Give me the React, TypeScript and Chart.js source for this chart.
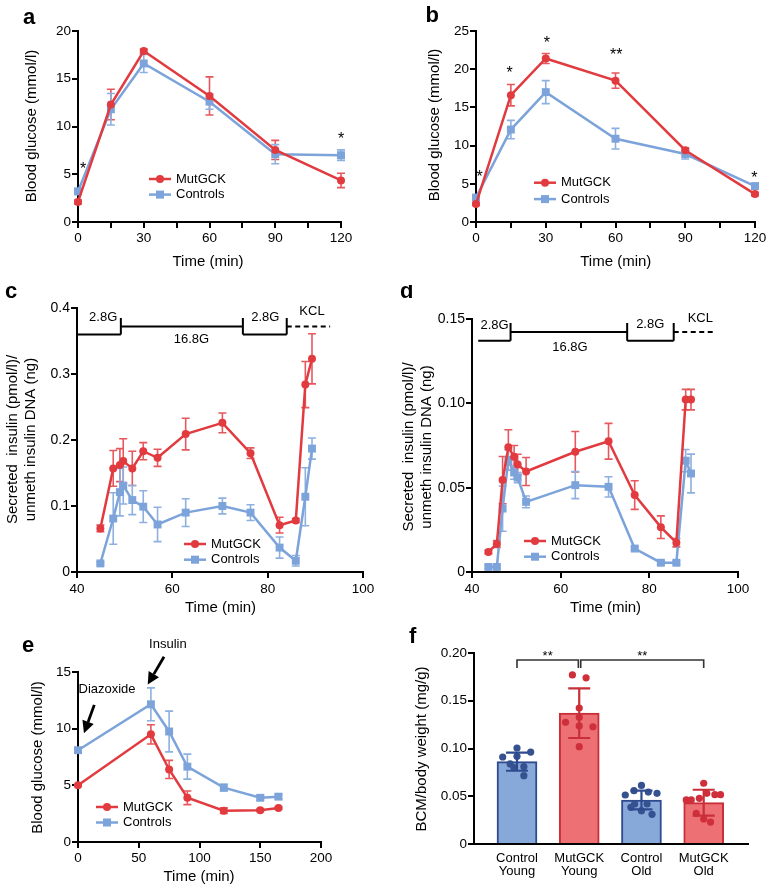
import React, { useEffect, useRef } from 'react';
import { Chart, registerables } from 'chart.js';

Chart.register(...registerables);

const FONT = '"Liberation Sans", Arial, Helvetica, sans-serif';
const RED = '#e13b40';
const BLUE = '#7ca3da';
const RED_ERR = '#e6585d';
const BLUE_ERR = '#8db0e0';
const RED_BAR = '#ed7074';
const RED_BAR_EDGE = '#c92f38';
const BLUE_BAR = '#87a9da';
const BLUE_BAR_EDGE = '#2f4b90';
const RED_DOT = '#cf2f3a';
const BLUE_DOT = '#35518f';

const SERIES = ['MutGCK', 'Controls'];

// ---------- panel a ----------
const A_TIME = [0, 15, 30, 60, 90, 120];
const A_MUT = [2.1, 12.3, 17.9, 13.2, 7.55, 4.35];
const A_MUT_SE = [0.2, 1.6, 0.2, 2.0, 1.0, 0.75];
const A_CTRL = [3.2, 11.8, 16.6, 12.6, 7.1, 7.0];
const A_CTRL_SE = [0.3, 1.65, 0.95, 0.8, 1.0, 0.55];
const A_STAR_X = [2.3, 120];
const A_STAR_Y = [6.0, 9.1];
const A_STAR_T = ['*', '*'];

// ---------- panel b ----------
const B_TIME = [0, 15, 30, 60, 90, 120];
const B_MUT = [2.35, 16.6, 21.4, 18.5, 9.4, 3.65];
const B_MUT_SE = [0.2, 1.4, 0.65, 1.0, 0.3, 0.2];
const B_CTRL = [3.2, 12.1, 17.0, 10.9, 8.9, 4.7];
const B_CTRL_SE = [0.3, 1.2, 1.5, 1.35, 0.65, 0.35];
const B_STAR_X = [1.6, 14.5, 30.5, 60.3, 119.7];
const B_STAR_Y = [6.45, 20.1, 23.95, 22.4, 6.36];
const B_STAR_T = ['*', '*', '*', '**', '*'];

// ---------- panel c ----------
const C_TIME = [44.9, 47.6, 49.0, 49.7, 51.6, 53.9, 56.9, 62.8, 70.5, 76.4, 82.5, 85.9, 87.9, 89.3];
const C_MUT = [0.066, 0.157, 0.162, 0.168, 0.157, 0.183, 0.173, 0.209, 0.226, 0.18, 0.071, 0.078, 0.284, 0.323];
const C_MUT_SE = [0.005, 0.027, 0.025, 0.034, 0.026, 0.013, 0.013, 0.024, 0.015, 0.008, 0.012, 0.003, 0.035, 0.038];
const C_CTRL = [0.013, 0.081, 0.121, 0.131, 0.109, 0.099, 0.072, 0.09, 0.1, 0.09, 0.037, 0.017, 0.114, 0.187];
const C_CTRL_SE = [0.002, 0.039, 0.036, 0.028, 0.022, 0.024, 0.026, 0.021, 0.012, 0.012, 0.016, 0.008, 0.044, 0.016];
const C_STEP_X = [40, 49.2, 74.8, 84.0, 93.1];
const C_LEVELS = [0.36, 0.372, 0.385];
const C_PHASES = ['2.8G', '16.8G', '2.8G', 'KCL'];
const C_PHASE_X = [45.5, 64, 79.5, 89.3];
const C_PHASE_Y = [0.386, 0.3525, 0.386, 0.3955];

// ---------- panel d ----------
const D_TIME = [43.7, 45.6, 46.9, 48.2, 49.5, 50.3, 52.2, 63.3, 70.8, 76.7, 82.6, 86.1, 88.2, 89.4];
const D_MUT = [0.0119, 0.0166, 0.0545, 0.0739, 0.0684, 0.0638, 0.0596, 0.0713, 0.0775, 0.0456, 0.0266, 0.0174, 0.1022, 0.1022];
const D_MUT_SE = [0.001, 0.002, 0.014, 0.0104, 0.0066, 0.006, 0.0083, 0.012, 0.0106, 0.0085, 0.0067, 0.0025, 0.0061, 0.0061];
const D_CTRL = [0.003, 0.003, 0.0376, 0.0664, 0.059, 0.056, 0.0416, 0.0515, 0.0505, 0.0139, 0.0055, 0.0055, 0.066, 0.0584];
const D_CTRL_SE = [0.001, 0.001, 0.0134, 0.006, 0.004, 0.003, 0.0035, 0.008, 0.006, 0.001, 0.001, 0.001, 0.0066, 0.0115];
const D_STEP_X = [41.4, 48.7, 75.0, 85.5, 94.5];
const D_LEVELS = [0.1371, 0.1423, 0.1476];
const D_PHASES = ['2.8G', '16.8G', '2.8G', 'KCL'];
const D_PHASE_X = [45.1, 62.1, 80.2, 91.5];
const D_PHASE_Y = [0.1464, 0.1332, 0.1468, 0.1504];

// ---------- panel e ----------
const E_TIME = [0, 60, 75, 90, 120, 150, 165];
const E_MUT = [5.0, 9.5, 6.4, 3.9, 2.76, 2.8, 3.0];
const E_MUT_SE = [0.1, 0.85, 0.8, 0.6, 0.25, 0.1, 0.1];
const E_CTRL = [8.1, 12.15, 9.75, 6.65, 4.8, 3.9, 4.0];
const E_CTRL_SE = [0.15, 1.45, 1.8, 1.1, 0.3, 0.2, 0.2];
const E_NOTES = ['Diazoxide', 'Insulin'];
const E_NOTE_X = [23.9, 74];
const E_NOTE_Y = [13.5, 17.4];
const E_ARROW_FROM = [[13.4, 12.1], [70.8, 16.35]];
const E_ARROW_TO = [[4.9, 9.6], [57.4, 13.9]];

// ---------- panel f ----------
const F_CATS = [['Control', 'Young'], ['MutGCK', 'Young'], ['Control', 'Old'], ['MutGCK', 'Old']];
const F_MEAN = [0.0862, 0.137, 0.0461, 0.0433];
const F_SD = [0.0095, 0.026, 0.0098, 0.0135];
const F_DOTS_CY = [0.0911, 0.1005, 0.0963, 0.0918, 0.0838, 0.081, 0.08, 0.0715];
const F_JIT_CY = [-0.23, 0, 0.22, 0, -0.11, 0.11, -0.05, 0.11];
const F_DOTS_MY = [0.177, 0.174, 0.1424, 0.1327, 0.1274, 0.1236, 0.1228, 0.1019];
const F_JIT_MY = [-0.11, 0.11, 0, 0, -0.22, 0, 0.22, 0];
const F_DOTS_CO = [0.0513, 0.0558, 0.0613, 0.0544, 0.0531, 0.0419, 0.0419, 0.0384, 0.0349, 0.0311];
const F_JIT_CO = [-0.26, -0.12, 0, 0.11, 0.25, -0.11, 0.09, -0.17, 0, 0.17];
const F_DOTS_MO = [0.0636, 0.0461, 0.0461, 0.0478, 0.0531, 0.0517, 0.0517, 0.0321, 0.0262, 0.023];
const F_JIT_MO = [0, -0.28, -0.2, -0.07, 0.05, 0.18, 0.27, -0.12, 0, 0.11];
const F_SIG_FROM = [1, 2.024];
const F_SIG_TO = [1.986, 4];
const F_SIG_TEXT = ['**', '**'];
const F_SIG_TOP = 0.1927;
const F_SIG_LEG = 0.1843;

// ---------- helpers ----------
function txt(ctx: any, s: string, x: number, y: number, size: number, o: any = {}) {
  ctx.save();
  ctx.font = `${o.bold ? 'bold ' : ''}${size}px ${FONT}`;
  ctx.fillStyle = '#000';
  ctx.textAlign = o.align || 'center';
  ctx.textBaseline = o.baseline || 'middle';
  ctx.translate(x, y);
  if (o.rot) ctx.rotate(o.rot);
  ctx.fillText(s, 0, 0);
  ctx.restore();
}

function star(ctx: any, s: string, x: number, yc: number, size: number) {
  txt(ctx, s, x, yc + 0.57 * size, size, { baseline: 'alphabetic' });
}

function marker(ctx: any, shape: string, x: number, y: number, color: string) {
  ctx.save();
  ctx.fillStyle = color;
  if (shape === 'rect') {
    ctx.fillRect(x - 4, y - 4, 8, 8);
  } else {
    ctx.beginPath();
    ctx.arc(x, y, 4, 0, Math.PI * 2);
    ctx.fill();
  }
  ctx.restore();
}

function drawLegend(ctx: any, x: number, y: number, gap: number) {
  const colors = [RED, BLUE];
  const shapes = ['circle', 'rect'];
  SERIES.forEach((name, i) => {
    const yy = y + i * gap;
    ctx.save();
    ctx.strokeStyle = colors[i];
    ctx.lineWidth = 2.5;
    ctx.beginPath();
    ctx.moveTo(x, yy);
    ctx.lineTo(x + 22, yy);
    ctx.stroke();
    ctx.restore();
    marker(ctx, shapes[i], x + 11, yy, colors[i]);
    txt(ctx, name, x + 27, yy, 13, { align: 'left' });
  });
}

function arrow(ctx: any, x1: number, y1: number, x2: number, y2: number) {
  const ang = Math.atan2(y2 - y1, x2 - x1);
  const head = 12;
  const hw = 6;
  const bx = x2 - head * Math.cos(ang);
  const by = y2 - head * Math.sin(ang);
  ctx.save();
  ctx.strokeStyle = '#000';
  ctx.fillStyle = '#000';
  ctx.lineWidth = 2.8;
  ctx.beginPath();
  ctx.moveTo(x1, y1);
  ctx.lineTo(bx, by);
  ctx.stroke();
  ctx.beginPath();
  ctx.moveTo(x2, y2);
  ctx.lineTo(bx + hw * Math.sin(ang), by - hw * Math.cos(ang));
  ctx.lineTo(bx - hw * Math.sin(ang), by + hw * Math.cos(ang));
  ctx.closePath();
  ctx.fill();
  ctx.restore();
}

function drawErrors(chart: any, onTop: boolean) {
  const ctx = chart.ctx;
  const ys = chart.scales.y;
  chart.data.datasets.forEach((ds: any, i: number) => {
    if (!ds.errorBars || !!ds.errorOnTop !== onTop) return;
    const meta = chart.getDatasetMeta(i);
    meta.data.forEach((el: any, j: number) => {
      const raw = ds.data[j];
      const v = typeof raw === 'number' ? raw : raw.y;
      const e = ds.errorBars[j];
      const top = ys.getPixelForValue(v + e);
      const bot = ys.getPixelForValue(v - e);
      const x = el.x;
      const cap = ds.capW || 8;
      ctx.save();
      ctx.strokeStyle = Array.isArray(ds.errorColor) ? ds.errorColor[j] : ds.errorColor;
      ctx.lineWidth = ds.errorWidth || 1.6;
      ctx.beginPath();
      ctx.moveTo(x, top);
      ctx.lineTo(x, bot);
      ctx.moveTo(x - cap / 2, top);
      ctx.lineTo(x + cap / 2, top);
      ctx.moveTo(x - cap / 2, bot);
      ctx.lineTo(x + cap / 2, bot);
      ctx.stroke();
      ctx.restore();
    });
  });
}

function drawTimeline(chart: any, stepX: number[], lv: number[], names: string[], nx: number[], ny: number[]) {
  const ctx = chart.ctx;
  const X = (v: number) => chart.scales.x.getPixelForValue(v);
  const Y = (v: number) => chart.scales.y.getPixelForValue(v);
  ctx.save();
  ctx.strokeStyle = '#000';
  ctx.lineWidth = 2;
  ctx.beginPath();
  ctx.moveTo(X(stepX[0]), Y(lv[0]));
  ctx.lineTo(X(stepX[1]), Y(lv[0]));
  ctx.moveTo(X(stepX[1]), Y(lv[1]));
  ctx.lineTo(X(stepX[2]), Y(lv[1]));
  ctx.moveTo(X(stepX[2]), Y(lv[0]));
  ctx.lineTo(X(stepX[3]), Y(lv[0]));
  [1, 2, 3].forEach((k) => {
    ctx.moveTo(X(stepX[k]), Y(lv[0]));
    ctx.lineTo(X(stepX[k]), Y(lv[2]));
  });
  ctx.stroke();
  ctx.setLineDash([5, 3.5]);
  ctx.beginPath();
  ctx.moveTo(X(stepX[3]), Y(lv[1]));
  ctx.lineTo(X(stepX[4]), Y(lv[1]));
  ctx.stroke();
  ctx.restore();
  names.forEach((n, i) => txt(ctx, n, X(nx[i]), Y(ny[i]), 13));
}

function lineDs(label: string, xs: number[], ys: number[], se: number[], color: string, errColor: string, shape: string) {
  return {
    label,
    data: xs.map((x, i) => ({ x, y: ys[i] })),
    borderColor: color,
    backgroundColor: color,
    borderWidth: 2.5,
    pointStyle: shape,
    pointRadius: shape === 'rect' ? 5.6 : 4,
    pointBorderWidth: 0,
    pointBackgroundColor: color,
    pointBorderColor: color,
    tension: 0,
    clip: false,
    errorBars: se,
    errorColor: errColor,
    capW: 8,
  };
}

const AXIS_BORDER = { display: true, color: '#000', width: 2 };
const AXIS_GRID = { display: true, drawOnChartArea: false, drawTicks: true, tickLength: 6, color: '#000', lineWidth: 2 };

function xLinear(min: number, max: number, step: number, cb: any, pad: number) {
  return {
    type: 'linear',
    min,
    max,
    offset: false,
    ticks: { stepSize: step, callback: cb, autoSkip: false, maxRotation: 0, color: '#000', font: { family: FONT, size: 13.5 }, padding: pad },
    border: AXIS_BORDER,
    grid: AXIS_GRID,
  };
}

function yLinear(min: number, max: number, step: number, cb: any, size = 13.5) {
  return {
    type: 'linear',
    min,
    max,
    ticks: { stepSize: step, callback: cb, autoSkip: false, color: '#000', font: { family: FONT, size }, padding: 1 },
    border: AXIS_BORDER,
    grid: AXIS_GRID,
  };
}

const intLabel = (v: any) => String(v);
const fix = (d: number) => (v: any) => (Number(v) === 0 ? '0' : Number(v).toFixed(d));

// ---------- panel specs ----------
const PANELS: any[] = [
  {
    letter: 'a', letterX: 23, letterY: 24,
    box: { x: 0, y: 0, w: 385, h: 285 },
    area: { L: 78, T: 31, R: 341, B: 222 },
    yTitle: ['Blood glucose (mmol/l)'], yTitleX: [32], yTitleY: 126, yTitleSize: 15,
    xTitle: 'Time (min)', xTitleX: 208, xTitleY: 262,
    legend: { x: 149, y: 179, gap: 15.6 },
    config: () => ({
      type: 'line',
      data: { datasets: [
        lineDs(SERIES[0], A_TIME, A_MUT, A_MUT_SE, RED, RED_ERR, 'circle'),
        lineDs(SERIES[1], A_TIME, A_CTRL, A_CTRL_SE, BLUE, BLUE_ERR, 'rect'),
      ] },
      options: { scales: {
        x: xLinear(0, 120, 15, (v: any) => (v % 30 === 0 ? String(v) : ''), 2),
        y: yLinear(0, 20, 5, intLabel),
      } },
    }),
    extras: (chart: any) => {
      A_STAR_X.forEach((x, i) => star(chart.ctx, A_STAR_T[i], chart.scales.x.getPixelForValue(x), chart.scales.y.getPixelForValue(A_STAR_Y[i]), 16));
    },
  },
  {
    letter: 'b', letterX: 425.5, letterY: 22,
    box: { x: 385, y: 0, w: 384, h: 285 },
    area: { L: 476, T: 31, R: 755, B: 222 },
    yTitle: ['Blood glucose (mmol/l)'], yTitleX: [435], yTitleY: 125, yTitleSize: 15,
    xTitle: 'Time (min)', xTitleX: 615.8, xTitleY: 261.7,
    legend: { x: 534, y: 182.7, gap: 16.4 },
    config: () => ({
      type: 'line',
      data: { datasets: [
        lineDs(SERIES[0], B_TIME, B_MUT, B_MUT_SE, RED, RED_ERR, 'circle'),
        lineDs(SERIES[1], B_TIME, B_CTRL, B_CTRL_SE, BLUE, BLUE_ERR, 'rect'),
      ] },
      options: { scales: {
        x: xLinear(0, 120, 15, (v: any) => (v % 30 === 0 ? String(v) : ''), 2),
        y: yLinear(0, 25, 5, intLabel),
      } },
    }),
    extras: (chart: any) => {
      B_STAR_X.forEach((x, i) => star(chart.ctx, B_STAR_T[i], chart.scales.x.getPixelForValue(x), chart.scales.y.getPixelForValue(B_STAR_Y[i]), 16));
    },
  },
  {
    letter: 'c', letterX: 5, letterY: 298,
    box: { x: 0, y: 285, w: 385, h: 335 },
    area: { L: 77, T: 308, R: 363, B: 572 },
    yTitle: ['Secreted  insulin (pmol/l)/', 'unmeth insulin DNA (ng)'], yTitleX: [12.5, 30.5], yTitleY: 439.5, yTitleSize: 15,
    xTitle: 'Time (min)', xTitleX: 220.5, xTitleY: 607.7,
    legend: { x: 184, y: 544, gap: 15.7 },
    config: () => ({
      type: 'line',
      data: { datasets: [
        lineDs(SERIES[0], C_TIME, C_MUT, C_MUT_SE, RED, RED_ERR, 'circle'),
        lineDs(SERIES[1], C_TIME, C_CTRL, C_CTRL_SE, BLUE, BLUE_ERR, 'rect'),
      ] },
      options: { scales: {
        x: xLinear(40, 100, 20, intLabel, 3.5),
        y: yLinear(0, 0.4, 0.1, fix(1), 14),
      } },
    }),
    extras: (chart: any) => drawTimeline(chart, C_STEP_X, C_LEVELS, C_PHASES, C_PHASE_X, C_PHASE_Y),
  },
  {
    letter: 'd', letterX: 400, letterY: 298,
    box: { x: 385, y: 285, w: 384, h: 335 },
    area: { L: 472, T: 319, R: 738, B: 572 },
    yTitle: ['Secreted  insulin (pmol/l)/', 'unmeth insulin DNA (ng)'], yTitleX: [409, 427], yTitleY: 447, yTitleSize: 15,
    xTitle: 'Time (min)', xTitleX: 605.5, xTitleY: 607.7,
    legend: { x: 524, y: 541, gap: 15.7 },
    config: () => ({
      type: 'line',
      data: { datasets: [
        lineDs(SERIES[0], D_TIME, D_MUT, D_MUT_SE, RED, RED_ERR, 'circle'),
        lineDs(SERIES[1], D_TIME, D_CTRL, D_CTRL_SE, BLUE, BLUE_ERR, 'rect'),
      ] },
      options: { scales: {
        x: xLinear(40, 100, 20, intLabel, 3.5),
        y: yLinear(0, 0.15, 0.05, fix(2), 14),
      } },
    }),
    extras: (chart: any) => drawTimeline(chart, D_STEP_X, D_LEVELS, D_PHASES, D_PHASE_X, D_PHASE_Y),
  },
  {
    letter: 'e', letterX: 22, letterY: 652,
    box: { x: 0, y: 620, w: 385, h: 269 },
    area: { L: 78, T: 672, R: 321, B: 842 },
    yTitle: ['Blood glucose (mmol/l)'], yTitleX: [38.3], yTitleY: 757.5, yTitleSize: 15,
    xTitle: 'Time (min)', xTitleX: 199, xTitleY: 876.7,
    legend: { x: 96, y: 807, gap: 15.5 },
    config: () => ({
      type: 'line',
      data: { datasets: [
        lineDs(SERIES[0], E_TIME, E_MUT, E_MUT_SE, RED, RED_ERR, 'circle'),
        lineDs(SERIES[1], E_TIME, E_CTRL, E_CTRL_SE, BLUE, BLUE_ERR, 'rect'),
      ] },
      options: { scales: {
        x: xLinear(0, 200, 50, intLabel, 2),
        y: yLinear(0, 15, 5, intLabel),
      } },
    }),
    extras: (chart: any) => {
      const X = (v: number) => chart.scales.x.getPixelForValue(v);
      const Y = (v: number) => chart.scales.y.getPixelForValue(v);
      E_NOTES.forEach((n, i) => {
        txt(chart.ctx, n, X(E_NOTE_X[i]), Y(E_NOTE_Y[i]), 13);
        arrow(chart.ctx, X(E_ARROW_FROM[i][0]), Y(E_ARROW_FROM[i][1]), X(E_ARROW_TO[i][0]), Y(E_ARROW_TO[i][1]));
      });
    },
  },
  {
    letter: 'f', letterX: 409, letterY: 643,
    box: { x: 385, y: 620, w: 384, h: 269 },
    area: { L: 474, T: 653, R: 748, B: 844 },
    xH: 44,
    yTitle: ['BCM/body weight (mg/g)'], yTitleX: [421.7], yTitleY: 749, yTitleSize: 15,
    config: () => {
      const groups = [
        { v: F_DOTS_CY, j: F_JIT_CY, c: BLUE_DOT },
        { v: F_DOTS_MY, j: F_JIT_MY, c: RED_DOT },
        { v: F_DOTS_CO, j: F_JIT_CO, c: BLUE_DOT },
        { v: F_DOTS_MO, j: F_JIT_MO, c: RED_DOT },
      ];
      return {
        type: 'bar',
        data: { datasets: [
          {
            type: 'bar',
            data: F_MEAN.map((v, i) => ({ x: i + 1, y: v })),
            backgroundColor: [BLUE_BAR, RED_BAR, BLUE_BAR, RED_BAR],
            borderColor: [BLUE_BAR_EDGE, RED_BAR_EDGE, BLUE_BAR_EDGE, RED_BAR_EDGE],
            borderWidth: 2,
            barThickness: 40,
            order: 2,
            errorBars: F_SD,
            errorColor: [BLUE_BAR_EDGE, RED_BAR_EDGE, BLUE_BAR_EDGE, RED_BAR_EDGE],
            errorWidth: 2.2,
            capW: 22,
            errorOnTop: true,
          },
          ...groups.map((g, k) => ({
            type: 'scatter',
            data: g.v.map((v, i) => ({ x: k + 1 + g.j[i], y: v })),
            pointRadius: 3.6,
            pointBorderWidth: 0,
            backgroundColor: g.c,
            borderColor: g.c,
            clip: false,
            order: 1,
          })),
        ] },
        options: { scales: {
          x: {
            type: 'linear', min: 0.309, max: 4.712, offset: false,
            afterBuildTicks: (s: any) => { s.ticks = [1, 2, 3, 4].map((v) => ({ value: v })); },
            ticks: { callback: (_v: any, i: number) => F_CATS[i], autoSkip: false, maxRotation: 0, color: '#000', font: { family: FONT, size: 13, lineHeight: 1.0 }, padding: 0 },
            border: AXIS_BORDER,
            grid: { display: false },
          },
          y: yLinear(0, 0.2, 0.05, fix(2)),
        } },
      };
    },
    extras: (chart: any) => {
      const ctx = chart.ctx;
      const X = (v: number) => chart.scales.x.getPixelForValue(v);
      const Y = (v: number) => chart.scales.y.getPixelForValue(v);
      ctx.save();
      ctx.strokeStyle = '#333';
      ctx.lineWidth = 1.6;
      F_SIG_FROM.forEach((x0, i) => {
        ctx.beginPath();
        ctx.moveTo(X(x0), Y(F_SIG_LEG));
        ctx.lineTo(X(x0), Y(F_SIG_TOP));
        ctx.lineTo(X(F_SIG_TO[i]), Y(F_SIG_TOP));
        ctx.lineTo(X(F_SIG_TO[i]), Y(F_SIG_LEG));
        ctx.stroke();
      });
      ctx.restore();
      F_SIG_FROM.forEach((x0, i) => star(ctx, F_SIG_TEXT[i], (X(x0) + X(F_SIG_TO[i])) / 2, Y(F_SIG_TOP) - 7, 13));
    },
  },
];

function buildChart(canvas: HTMLCanvasElement, spec: any) {
  const cfg = spec.config();
  const { box, area } = spec;
  const padL = 2;
  const xH = spec.xH || 30;
  const yW = area.L - box.x - padL;
  const o = cfg.options;
  o.animation = false;
  o.responsive = false;
  o.maintainAspectRatio = false;
  o.devicePixelRatio = 1;
  o.events = [];
  o.layout = { padding: { left: padL, top: area.T - box.y, right: box.x + box.w - area.R, bottom: box.y + box.h - area.B - xH } };
  o.plugins = { legend: { display: false }, tooltip: { enabled: false }, title: { display: false } };
  o.scales.x.afterFit = (s: any) => { s.height = xH; };
  o.scales.y.afterFit = (s: any) => { s.width = yW; };
  cfg.plugins = [
    {
      id: 'overlay',
      beforeDatasetsDraw(chart: any) { drawErrors(chart, false); },
      afterDatasetsDraw(chart: any) { drawErrors(chart, true); },
      afterDraw(chart: any) {
        const ctx = chart.ctx;
        const ox = box.x;
        const oy = box.y;
        txt(ctx, spec.letter, spec.letterX - ox, spec.letterY - oy, 22, { bold: true, align: 'left', baseline: 'alphabetic' });
        spec.yTitle.forEach((line: string, i: number) => {
          txt(ctx, line, spec.yTitleX[i] - ox, spec.yTitleY - oy, spec.yTitleSize, { rot: -Math.PI / 2 });
        });
        if (spec.xTitle) txt(ctx, spec.xTitle, spec.xTitleX - ox, spec.xTitleY - oy, 15);
        if (spec.legend) drawLegend(ctx, spec.legend.x - ox, spec.legend.y - oy, spec.legend.gap);
        if (spec.extras) spec.extras(chart);
      },
    },
  ];
  Chart.defaults.font.family = FONT;
  Chart.defaults.color = '#000';
  return new Chart(canvas, cfg);
}

function Panel({ spec }: { spec: any }) {
  const ref = useRef<HTMLCanvasElement | null>(null);
  useEffect(() => {
    if (!ref.current) return;
    const chart = buildChart(ref.current, spec);
    return () => chart.destroy();
  }, [spec]);
  return (
    <canvas
      ref={ref}
      width={spec.box.w}
      height={spec.box.h}
      style={{ position: 'absolute', left: spec.box.x, top: spec.box.y, width: spec.box.w, height: spec.box.h }}
    />
  );
}

export default function App() {
  return (
    <div style={{ position: 'absolute', left: 0, top: 0, width: 769, height: 889, background: '#fff', overflow: 'hidden' }}>
      {PANELS.map((p, i) => (
        <Panel key={i} spec={p} />
      ))}
    </div>
  );
}
